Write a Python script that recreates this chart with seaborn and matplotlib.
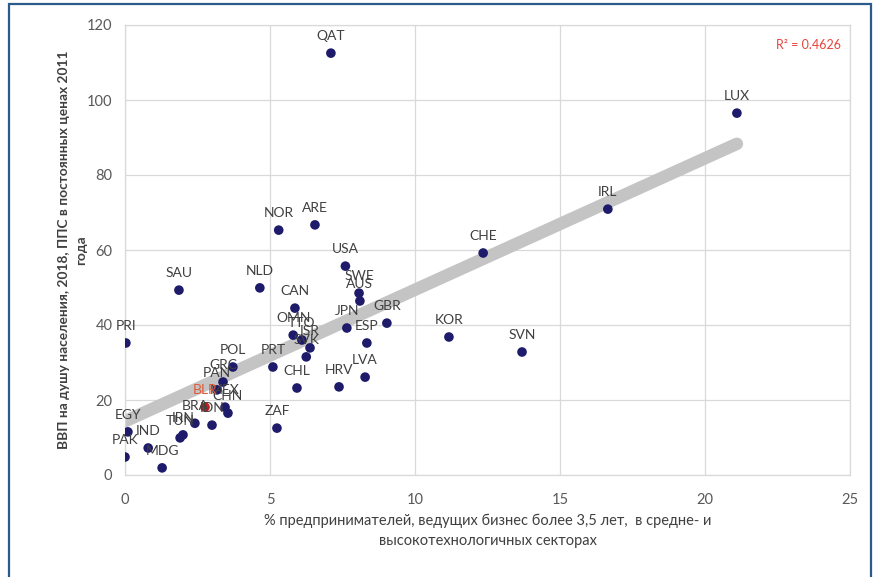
import matplotlib
matplotlib.use("Agg")
import matplotlib.pyplot as plt
import seaborn as sns
import pandas as pd
from matplotlib.patches import Rectangle

# ===========================
# DATA
# ===========================
countries = ["QAT", "LUX", "IRL", "CHE", "NOR", "ARE", "USA", "SAU", "NLD", "CAN",
             "SWE", "AUS", "JPN", "GBR", "ESP", "LVA", "HRV", "CHL", "PRT", "OMN",
             "TTO", "ISR", "SVK", "KOR", "SVN", "PRI", "POL", "GRC", "PAN", "MEX",
             "CHN", "BLR", "ZAF", "BRA", "IDN", "IRN", "TUN", "IND", "EGY", "PAK",
             "MDG"]
entrepreneurs = [7.1, 21.1, 16.65, 12.35, 5.3, 6.55, 7.6, 1.86, 4.65, 5.86,
                 8.07, 8.1, 7.65, 9.03, 8.34, 8.28, 7.38, 5.93, 5.1, 5.8,
                 6.1, 6.38, 6.25, 11.17, 13.69, 0.03, 3.72, 3.38, 3.17, 3.45,
                 3.55, 2.76, 5.24, 2.41, 3.0, 2.0, 1.9, 0.8, 0.1, 0.0,
                 1.28]
gdp = [112.5, 96.5, 70.9, 59.2, 65.3, 66.7, 55.7, 49.3, 49.9, 44.5,
       48.5, 46.4, 39.2, 40.5, 35.2, 26.1, 23.5, 23.2, 28.8, 37.3,
       36.0, 33.9, 31.5, 36.8, 32.8, 35.2, 28.8, 24.8, 22.7, 18.1,
       16.5, 18.1, 12.5, 13.8, 13.3, 10.7, 9.9, 7.2, 11.5, 4.8,
       1.9]
highlight = "BLR"
r2_text = "R² = 0.4626"

df = pd.DataFrame({"country": countries, "x": entrepreneurs, "y": gdp})

# ===========================
# STYLE
# ===========================
sns.set_style("white")
plt.rcParams["font.family"] = ["Lato", "DejaVu Sans"]

NAVY = "#1e1b6b"
RED = "#c0221a"
LABEL_RED = "#e05a3a"
TXT = "#404040"

fig = plt.figure(figsize=(8.79, 5.77), dpi=100)
fig.patch.set_facecolor("white")
ax = fig.add_axes([125 / 879, 1 - 475 / 577, 725 / 879, 450 / 577])

# trend line (linear fit) drawn under the points
sns.regplot(data=df, x="x", y="y", ax=ax, scatter=False, ci=None, truncate=True,
            line_kws={"color": "#c4c4c4", "linewidth": 9, "solid_capstyle": "round",
                      "zorder": 2})

colors = [RED if c == highlight else NAVY for c in df["country"]]
sns.scatterplot(data=df, x="x", y="y", ax=ax, c=colors, s=48, linewidth=0,
                zorder=3, legend=False)

for c, xv, yv in zip(countries, entrepreneurs, gdp):
    ax.annotate(c, (xv, yv), xytext=(0, 8), textcoords="offset points",
                ha="center", va="bottom", fontsize=10,
                color=LABEL_RED if c == highlight else TXT, zorder=4)

ax.text(0.988, 0.955, r2_text, transform=ax.transAxes, ha="right", va="center",
        fontsize=9, color="#e8453c")

ax.set_xlim(0, 25)
ax.set_ylim(0, 120)
ax.set_xticks(range(0, 26, 5))
ax.set_yticks(range(0, 121, 20))
ax.grid(True, color="#d9d9d9", linewidth=0.9)
ax.set_axisbelow(True)
for s in ax.spines.values():
    s.set_color("#d9d9d9")
    s.set_linewidth(0.9)
ax.tick_params(axis="both", length=0, labelsize=10.5, colors="#595959")
ax.tick_params(axis="x", pad=13)
ax.tick_params(axis="y", pad=9)

ax.set_xlabel("% предпринимателей, ведущих бизнес более 3,5 лет,  в средне- и\n"
              "высокотехнологичных секторах", fontsize=10.5, color=TXT,
              linespacing=1.55, labelpad=5)
ax.set_ylabel("ВВП на душу населения, 2018, ППС в постоянных ценах 2011\nгода",
              fontsize=9.9, color=TXT, fontweight="bold", linespacing=1.5)
ax.yaxis.set_label_coords(-0.052, 0.5)

# outer frame of the original slide
fig.patches.append(Rectangle((9 / 879, -0.02), 862 / 879, 1 - 4 / 577 + 0.02,
                             transform=fig.transFigure, fill=False,
                             edgecolor="#2b5a8c", linewidth=1.6))

fig.savefig("out.png", dpi=100)
